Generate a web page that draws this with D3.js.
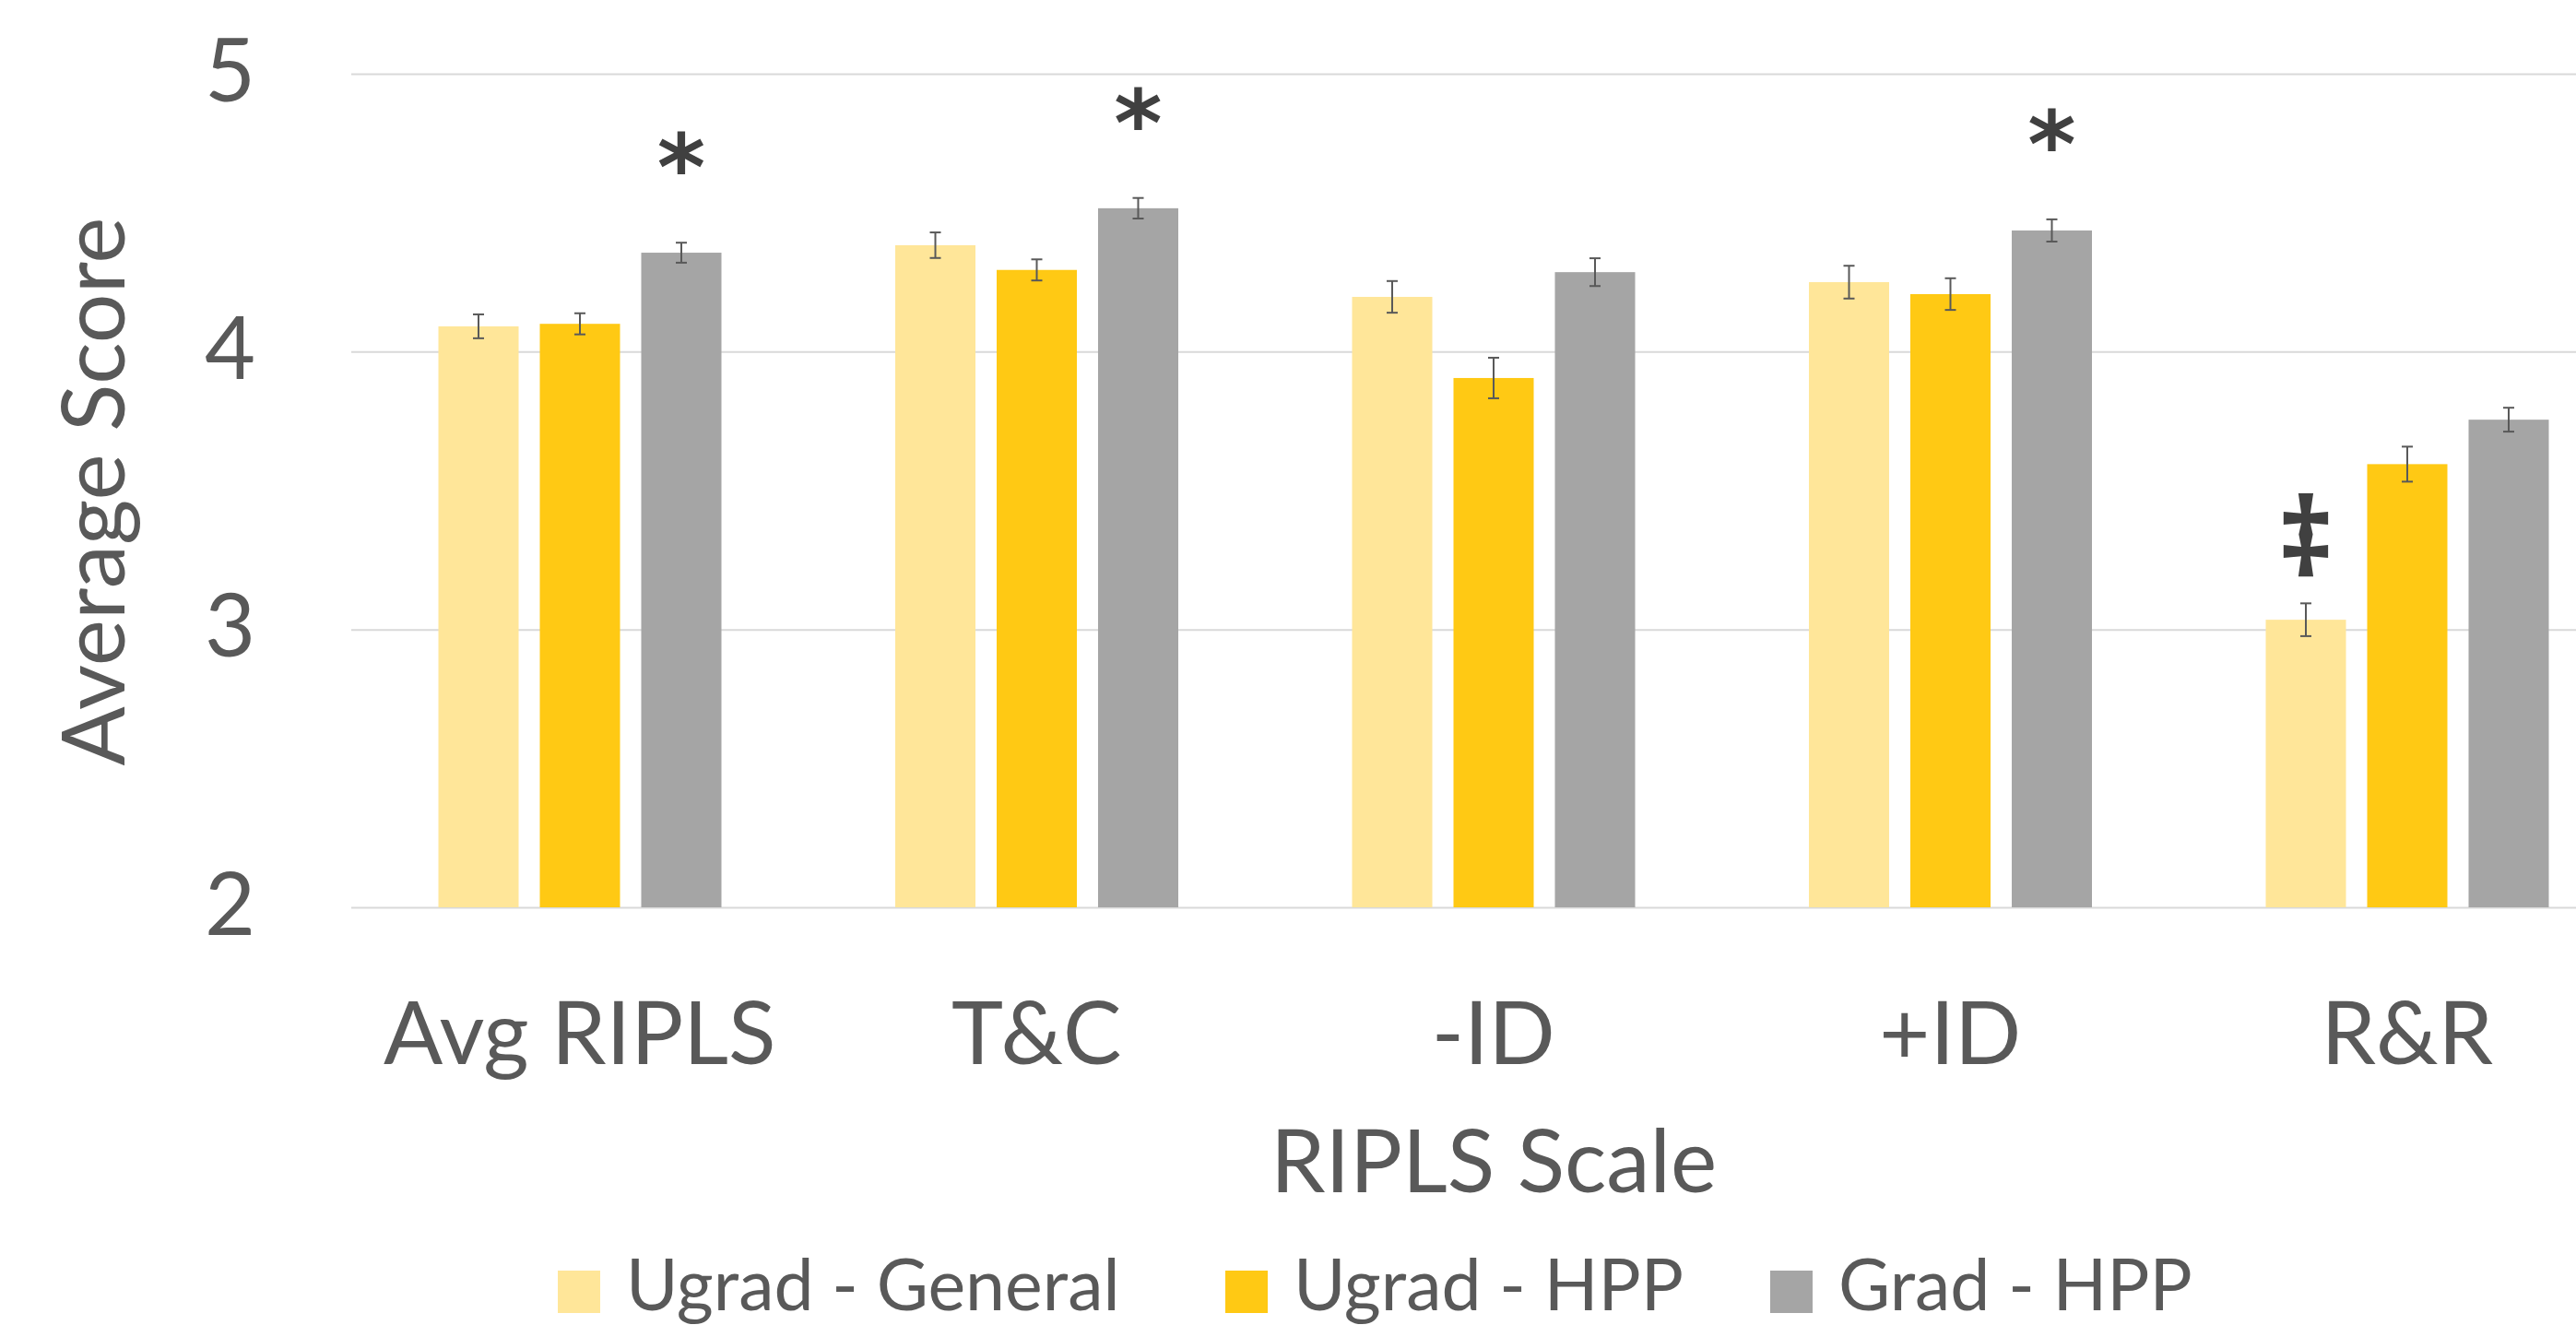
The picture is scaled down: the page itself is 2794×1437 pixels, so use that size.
<!DOCTYPE html>
<html><head><meta charset="utf-8">
<script src="https://cdn.jsdelivr.net/npm/d3@7"></script>
<style>html,body{margin:0;padding:0;background:#fff;overflow:hidden}</style>
</head><body>
<svg id="chart" width="2794" height="1437"></svg>
<script>
// ---- data ----
const categories = ["Avg RIPLS", "T&C", "-ID", "+ID", "R&R"];
const seriesNames = ["Ugrad - General", "Ugrad - HPP", "Grad - HPP"];
const ugradGeneral = [4.091, 4.383, 4.197, 4.250, 3.035];
const ugradHPP     = [4.100, 4.294, 3.905, 4.207, 3.595];
const gradHPP      = [4.356, 4.516, 4.286, 4.436, 3.755];
const errUgradGeneral = [0.043, 0.046, 0.057, 0.059, 0.059];
const errUgradHPP     = [0.038, 0.038, 0.073, 0.057, 0.063];
const errGradHPP      = [0.036, 0.037, 0.050, 0.040, 0.043];
const yTicks = [2, 3, 4, 5];
const markerCategories = ["Avg RIPLS", "T&C", "+ID", "R&R"];
const markerSeries = ["Grad - HPP", "Grad - HPP", "Grad - HPP", "Ugrad - General"];
const markerSymbols = ["*", "*", "*", "\u2021"];
const xTitle = "RIPLS Scale";
const yTitle = "Average Score";

// ---- layout / style ----
const W = 2794, H = 1437;
const colors = ["#FFE699", "#FFC914", "#A5A5A5"];
const textColor = "#595959";
const font = "Lato, 'Open Sans', sans-serif";

const values = [ugradGeneral, ugradHPP, gradHPP];
const errors = [errUgradGeneral, errUgradHPP, errGradHPP];
const rows = [];
categories.forEach((c, i) => seriesNames.forEach((s, j) => {
  rows.push({cat: c, ser: s, v: values[j][i], e: errors[j][i], color: colors[j]});
}));

const svg = d3.select("#chart");
const x0 = d3.scaleBand().domain(categories).range([381, 381 + 5 * 495.5]).padding(0);
const x1 = d3.scaleBand().domain(seriesNames).range([94.5, 401.5]).paddingInner(0.209).paddingOuter(0);
const y = d3.scaleLinear().domain([2, 5]).range([984, 80]);

// gridlines + y tick labels
const yAxis = svg.append("g").attr("transform", "translate(381,0)")
  .call(d3.axisLeft(y).tickValues(yTicks).tickSize(-(W - 381)).tickPadding(104).tickFormat(d3.format("d")));
yAxis.select(".domain").remove();
yAxis.selectAll(".tick line").attr("stroke", "#D9D9D9").attr("stroke-width", 2);
yAxis.selectAll(".tick text").attr("dy", null).attr("y", 29)
  .attr("fill", textColor).style("font-family", font).style("font-size", "95px");

// bars
svg.append("g").selectAll("rect").data(rows).join("rect")
  .attr("x", d => x0(d.cat) + x1(d.ser))
  .attr("width", x1.bandwidth())
  .attr("y", d => y(d.v))
  .attr("height", d => y(2) - y(d.v))
  .attr("fill", d => d.color);

// error bars
const eb = svg.append("g").attr("stroke", "#595959").attr("stroke-width", 2).attr("fill", "none");
rows.forEach(d => {
  const cx = x0(d.cat) + x1(d.ser) + x1.bandwidth() / 2;
  const y1 = y(d.v + d.e), y2 = y(d.v - d.e);
  eb.append("line").attr("x1", cx).attr("x2", cx).attr("y1", y1).attr("y2", y2);
  eb.append("line").attr("x1", cx - 6).attr("x2", cx + 6).attr("y1", y1).attr("y2", y1);
  eb.append("line").attr("x1", cx - 6).attr("x2", cx + 6).attr("y1", y2).attr("y2", y2);
});

// significance markers
markerCategories.forEach((c, k) => {
  const s = markerSeries[k];
  const r = rows.find(d => d.cat === c && d.ser === s);
  const cx = x0(c) + x1(s) + x1.bandwidth() / 2;
  const top = y(r.v + r.e);
  const isStar = markerSymbols[k] === "*";
  svg.append("text")
    .attr("x", cx)
    .attr("y", isStar ? top - 46 : top - 29)
    .attr("text-anchor", "middle")
    .attr("fill", "#404040")
    .style("font-family", isStar ? "'DejaVu Sans', sans-serif" : "'Open Sans', sans-serif")
    .style("font-weight", "bold")
    .style("font-size", isStar ? "100px" : "119px")
    .text(markerSymbols[k]);
});

// x category labels
const xAxis = svg.append("g").attr("transform", "translate(0,984)")
  .call(d3.axisBottom(x0).tickSize(0));
xAxis.select(".domain").remove();
xAxis.selectAll(".tick text").attr("dy", null).attr("y", 170)
  .attr("fill", textColor).style("font-family", font).style("font-size", "95px");

// axis titles
svg.append("text").attr("x", 1620).attr("y", 1293).attr("text-anchor", "middle")
  .attr("fill", textColor).style("font-family", font).style("font-size", "95px").text(xTitle);
svg.append("text").attr("transform", "translate(135,533) rotate(-90)").attr("text-anchor", "middle")
  .attr("fill", textColor).style("font-family", font).style("font-size", "95px").text(yTitle);

// legend
const legendX = [605, 1329, 1920];
seriesNames.forEach((s, j) => {
  const g = svg.append("g").attr("transform", `translate(${legendX[j]},0)`);
  g.append("rect").attr("x", 0).attr("y", 1378).attr("width", 46).attr("height", 46).attr("fill", colors[j]);
  g.append("text").attr("x", 74).attr("y", 1421).attr("fill", textColor)
    .style("font-family", font).style("font-size", "77px").text(s);
});
</script>
</body></html>
